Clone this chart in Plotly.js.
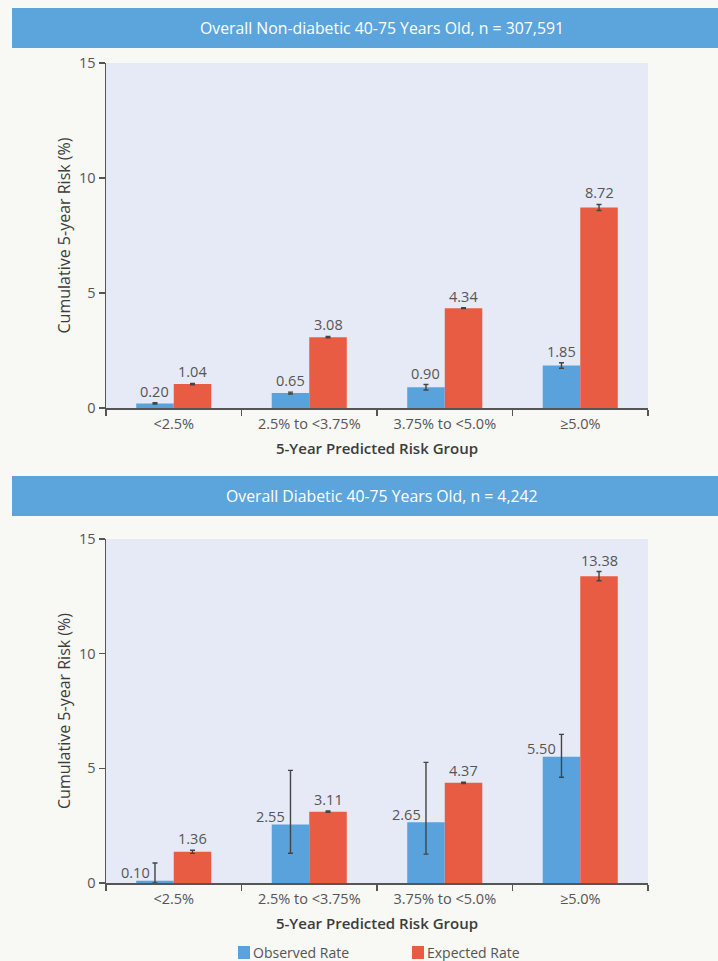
<!DOCTYPE html>
<html>
<head>
<meta charset="utf-8">
<script src="https://cdn.plot.ly/plotly-3.0.1.min.js"></script>
<style>
  html, body { margin: 0; padding: 0; background: #f8f8f4; }
  #chart { width: 718px; height: 961px; }
</style>
</head>
<body>
<div id="chart"></div>
<script>
// Risk groups on the x axis
const categories = ['<2.5%', '2.5% to <3.75%', '3.75% to <5.0%', '\u22655.0%'];

// Non-diabetic cohort, cumulative 5-year risk (%)
const nonDiabObserved = [0.20, 0.65, 0.90, 1.85];
const nonDiabObservedErrUp = [0.03, 0.04, 0.12, 0.12];
const nonDiabObservedErrDown = [0.03, 0.04, 0.12, 0.12];
const nonDiabExpected = [1.04, 3.08, 4.34, 8.72];
const nonDiabExpectedErrUp = [0.03, 0.03, 0.02, 0.13];
const nonDiabExpectedErrDown = [0.03, 0.03, 0.02, 0.13];

// Diabetic cohort, cumulative 5-year risk (%)
const diabObserved = [0.10, 2.55, 2.65, 5.50];
const diabObservedErrUp = [0.77, 2.36, 2.61, 0.98];
const diabObservedErrDown = [0.10, 1.25, 1.39, 0.89];
const diabExpected = [1.36, 3.11, 4.37, 13.38];
const diabExpectedErrUp = [0.07, 0.03, 0.03, 0.20];
const diabExpectedErrDown = [0.07, 0.03, 0.03, 0.20];

const panelTitles = [
  'Overall Non-diabetic 40-75 Years Old, n = 307,591',
  'Overall Diabetic 40-75 Years Old, n = 4,242'
];
const seriesNames = ['Observed Rate', 'Expected Rate'];
const yTicks = [0, 5, 10, 15];

const W = 718, H = 961;
const BLUE = '#5aa2dc';
const RED = '#e95c44';
const HEADER = '#5ca4dc';
const INK = '#555555';
const TITLE_INK = '#3c3c3c';
const BARGAP = 0.446;
const FONT = 'Open Sans, Noto Sans, sans-serif';

const px = v => v / W;          // horizontal pixel -> paper fraction
const py = v => 1 - v / H;      // vertical pixel (from top) -> paper fraction

function errorSpec(up, down) {
  return {
    type: 'data', symmetric: false, array: up, arrayminus: down,
    color: '#444444', thickness: 1.4, width: 2.5
  };
}

function barTrace(values, up, down, color, name, ax) {
  return {
    type: 'bar', x: categories, y: values, name: name,
    marker: { color: color, line: { width: 0 } },
    error_y: errorSpec(up, down),
    xaxis: ax[0], yaxis: ax[1],
    showlegend: false, hoverinfo: 'skip'
  };
}

const traces = [
  barTrace(nonDiabObserved, nonDiabObservedErrUp, nonDiabObservedErrDown, BLUE, seriesNames[0], ['x', 'y']),
  barTrace(nonDiabExpected, nonDiabExpectedErrUp, nonDiabExpectedErrDown, RED, seriesNames[1], ['x', 'y']),
  barTrace(diabObserved, diabObservedErrUp, diabObservedErrDown, BLUE, seriesNames[0], ['x2', 'y2']),
  barTrace(diabExpected, diabExpectedErrUp, diabExpectedErrDown, RED, seriesNames[1], ['x2', 'y2'])
];

// Offset of each bar's centre from its category centre (grouped bars)
const half = (1 - BARGAP) / 4;

const annotations = [];
function valueLabels(values, up, side, xref, yref, offset) {
  values.forEach((v, i) => {
    const base = {
      xref: xref, yref: yref, x: i + offset, text: v.toFixed(2), showarrow: false,
      font: { family: FONT, size: 14.5, color: INK }
    };
    if (side === 'left') {
      // label sits beside a tall error bar
      annotations.push(Object.assign(base, { y: v, xanchor: 'right', yanchor: 'middle', xshift: -3, yshift: 8 }));
    } else {
      annotations.push(Object.assign(base, { y: v + up[i], xanchor: 'center', yanchor: 'bottom', yshift: 0 }));
    }
  });
}
valueLabels(nonDiabObserved, nonDiabObservedErrUp, 'above', 'x', 'y', -half);
valueLabels(nonDiabExpected, nonDiabExpectedErrUp, 'above', 'x', 'y', half);
valueLabels(diabObserved, diabObservedErrUp, 'left', 'x2', 'y2', -half);
valueLabels(diabExpected, diabExpectedErrUp, 'above', 'x2', 'y2', half);

// Panel header banners
const headers = [[8, 48], [476, 516]];
const shapes = [];
headers.forEach((h, k) => {
  shapes.push({
    type: 'rect', xref: 'paper', yref: 'paper',
    x0: px(12), x1: 1, y0: py(h[1]), y1: py(h[0]),
    fillcolor: HEADER, line: { width: 0 }, layer: 'below'
  });
  annotations.push({
    xref: 'paper', yref: 'paper', x: px(382), y: py((h[0] + h[1]) / 2),
    xanchor: 'center', yanchor: 'middle', showarrow: false, text: panelTitles[k],
    font: { family: FONT, size: 15.8, color: '#ffffff' }
  });
});

// Legend boxes along the bottom edge
const legendX = [238, 412];
[BLUE, RED].forEach((c, k) => {
  shapes.push({
    type: 'rect', xref: 'paper', yref: 'paper',
    x0: px(legendX[k]), x1: px(legendX[k] + 12), y0: py(959), y1: py(946),
    fillcolor: c, line: { width: 0 }
  });
  annotations.push({
    xref: 'paper', yref: 'paper', x: px(legendX[k] + 13), y: py(952),
    xanchor: 'left', yanchor: 'middle', showarrow: false, text: seriesNames[k],
    font: { family: FONT, size: 14, color: INK }
  });
});

function xAxis(anchor) {
  return {
    domain: [px(106), px(648)], anchor: anchor,
    type: 'category', range: [-0.5, 3.5],
    showline: true, linecolor: INK, linewidth: 1.5,
    ticks: 'outside', tickson: 'boundaries', ticklen: 6, tickwidth: 1.5, tickcolor: INK,
    ticklabelstandoff: 2,
    tickfont: { family: FONT, size: 14.5, color: INK },
    showgrid: false, zeroline: false, fixedrange: true,
    title: { text: '5-Year Predicted Risk Group', standoff: 11,
             font: { family: FONT, size: 15, color: TITLE_INK, weight: 600 } }
  };
}
function yAxis(anchor, top, bottom) {
  return {
    domain: [py(bottom), py(top)], anchor: anchor,
    range: [0, 15], tickvals: yTicks,
    showline: true, linecolor: INK, linewidth: 1.5,
    ticks: 'outside', ticklen: 6, tickwidth: 1.5, tickcolor: INK,
    tickfont: { family: FONT, size: 14.5, color: INK },
    showgrid: false, zeroline: false, fixedrange: true,
    title: { text: 'Cumulative 5-year Risk (%)', standoff: 4,
             font: { family: FONT, size: 16, color: TITLE_INK, weight: 500 } }
  };
}

const layout = {
  width: W, height: H,
  margin: { l: 0, r: 0, t: 0, b: 0 },
  paper_bgcolor: '#f8f8f4',
  plot_bgcolor: '#e6eaf6',
  barmode: 'group', bargap: BARGAP, bargroupgap: 0,
  showlegend: false,
  xaxis: xAxis('y'), yaxis: yAxis('x', 63, 408),
  xaxis2: xAxis('y2'), yaxis2: yAxis('x2', 539, 883),
  shapes: shapes,
  annotations: annotations
};

Plotly.newPlot('chart', traces, layout, { displayModeBar: false, staticPlot: true });
</script>
</body>
</html>
